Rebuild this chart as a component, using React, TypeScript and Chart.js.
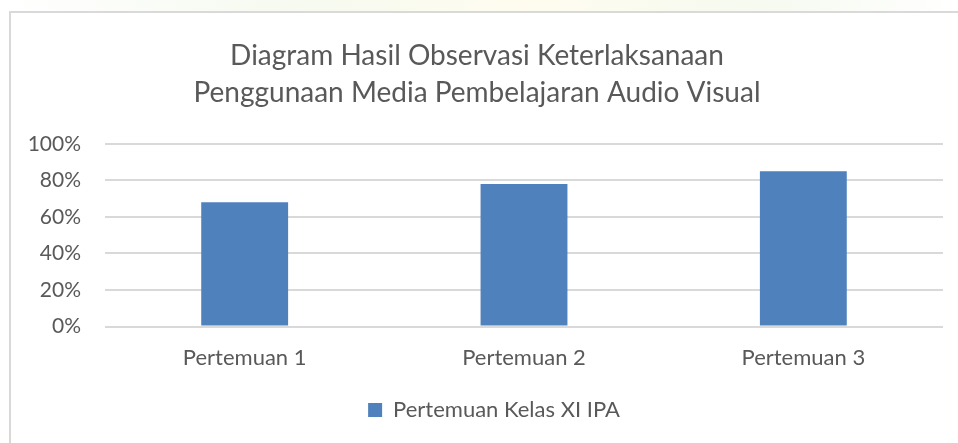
import React, { useEffect, useRef } from "react";
import { Chart, registerables } from "chart.js";

Chart.register(...registerables);

const categories = ["Pertemuan 1", "Pertemuan 2", "Pertemuan 3"];
const seriesName = "Pertemuan Kelas XI IPA";
const values = [68, 78, 85];
const titleLines = [
  "Diagram Hasil Observasi Keterlaksanaan",
  "Penggunaan Media Pembelajaran Audio Visual",
];
const yTicks = [0, 20, 40, 60, 80, 100];

const FONT = "Lato, 'Open Sans', sans-serif";
const TEXT = "#595959";
const GRID = "#d9d9d9";
const BAR = "#4f81bd";

const legendShift = {
  id: "legendShift",
  afterLayout(chart: any) {
    const lg = chart.legend;
    if (lg) {
      lg.left += 17;
      lg.right += 17;
    }
  },
};

export default function App() {
  const ref = useRef<HTMLCanvasElement | null>(null);

  useEffect(() => {
    if (!ref.current) return;
    const chart = new Chart(ref.current, {
      type: "bar",
      data: {
        labels: categories,
        datasets: [
          {
            label: seriesName,
            data: values,
            backgroundColor: BAR,
            borderWidth: 0,
            barPercentage: 0.622,
            categoryPercentage: 0.5,
          },
        ],
      },
      plugins: [legendShift],
      options: {
        animation: false,
        responsive: false,
        maintainAspectRatio: false,
        layout: { padding: { left: 0, right: 15, top: 0, bottom: 12 } },
        plugins: {
          title: {
            display: true,
            text: titleLines,
            color: TEXT,
            font: { family: FONT, size: 28, weight: "normal", lineHeight: 1.3 },
            padding: { top: 25, bottom: 33 },
          },
          legend: {
            position: "bottom",
            labels: {
              color: TEXT,
              font: { family: FONT, size: 22 },
              boxWidth: 14,
              boxHeight: 14,
              padding: 10,
            },
          },
          tooltip: { enabled: false },
        },
        scales: {
          x: {
            grid: { display: false, drawTicks: false },
            border: { display: false },
            ticks: { color: TEXT, font: { family: FONT, size: 22 }, padding: 18 },
          },
          y: {
            min: yTicks[0],
            max: yTicks[yTicks.length - 1],
            afterFit: (s: any) => {
              s.width = 94;
            },
            afterBuildTicks: (s: any) => {
              s.ticks = yTicks.map((v) => ({ value: v }));
            },
            grid: { color: GRID, lineWidth: 2, drawTicks: false },
            border: { display: false },
            ticks: {
              color: TEXT,
              padding: 24,
              font: { family: FONT, size: 21 },
              callback: (v: any) => v + "%",
            },
          },
        },
      },
    });
    return () => chart.destroy();
  }, []);

  return (
    <div
      style={{
        position: "fixed",
        left: 0,
        top: 0,
        width: 958,
        height: 443,
        background:
          "linear-gradient(90deg, #ffffff 0%, #f6faf0 30%, #fffcef 55%, #f6faf0 80%, #ffffff 100%)",
        overflow: "hidden",
      }}
    >
      <div
        style={{
          position: "absolute",
          left: 9,
          top: 11,
          width: 960,
          height: 440,
          background: "#ffffff",
          borderLeft: "2px solid #d9d9d9",
          borderTop: "2px solid #d9d9d9",
          boxSizing: "border-box",
        }}
      />
      <canvas
        ref={ref}
        width={947}
        height={430}
        style={{ display: "block", position: "absolute", left: 11, top: 13 }}
      />
    </div>
  );
}
